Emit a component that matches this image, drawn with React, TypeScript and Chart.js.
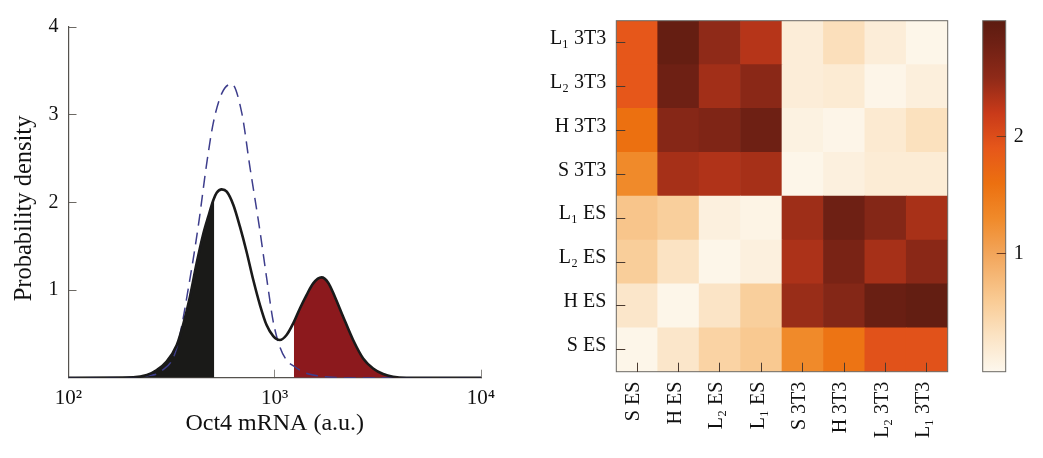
import React, { useEffect, useRef } from "react";
import { Chart, registerables } from "chart.js";

Chart.register(...registerables);

const SERIF = '"Liberation Serif", serif';
const AXIS = "#55524e";

// Left panel: densities
const mrna = [100, 206, 240, 268, 299, 335, 361, 388, 418, 451, 476, 504, 523, 553, 585, 630, 678, 730, 787, 848, 913, 983, 1059, 1141, 1229, 1324, 1426, 1536, 1686, 1816, 1956, 2146, 2399, 2683, 2999, 3353, 3748, 4349, 10000];
const density = [0, 0.004, 0.03, 0.087, 0.183, 0.373, 0.62, 0.924, 1.304, 1.646, 1.837, 2.027, 2.11, 2.148, 2.122, 1.97, 1.722, 1.437, 1.114, 0.829, 0.6, 0.475, 0.43, 0.487, 0.62, 0.79, 0.943, 1.076, 1.144, 1.084, 0.924, 0.696, 0.43, 0.22, 0.106, 0.042, 0.011, 0, 0];
const dashedMrna = [100, 206, 240, 280, 333, 392, 430, 465, 503, 553, 618, 692, 757, 842, 917, 983, 1059, 1141, 1250, 1400, 1650, 1900, 2350, 10000];
const dashedDensity = [0, 0, 0.02, 0.07, 0.32, 1.19, 1.8, 2.4, 2.9, 3.24, 3.35, 3.02, 2.41, 1.72, 1.11, 0.64, 0.35, 0.2, 0.125, 0.057, 0.019, 0.004, 0, 0];
const lowCutoff = 509;
const lowCutoffDensity = 2.05;
const highCutoff = 1238;
const highCutoffDensity = 0.635;
const logTicks = [100, 1000, 10000];
const logLabels = ["10²", "10³", "10⁴"];
const densityTicks = [1, 2, 3, 4];

// Right panel: distance matrix, rows listed top to bottom
const columnLabels = ["S ES", "H ES", "L₂ ES", "L₁ ES", "S 3T3", "H 3T3", "L₂ 3T3", "L₁ 3T3"];
const rowLabels = ["S ES", "H ES", "L₂ ES", "L₁ ES", "S 3T3", "H 3T3", "L₂ 3T3", "L₁ 3T3"];
const rowL1_3T3 = [1.9, 2.9, 2.5, 2.3, 0.15, 0.35, 0.15, 0.02];
const rowL2_3T3 = [1.9, 2.8, 2.4, 2.55, 0.15, 0.18, 0.03, 0.12];
const rowH_3T3 = [1.6, 2.58, 2.65, 2.8, 0.08, 0.03, 0.2, 0.33];
const rowS_3T3 = [1.3, 2.38, 2.33, 2.38, 0.02, 0.1, 0.17, 0.17];
const rowL1_ES = [0.66, 0.55, 0.1, 0.05, 2.42, 2.8, 2.6, 2.37];
const rowL2_ES = [0.56, 0.3, 0.02, 0.1, 2.35, 2.7, 2.38, 2.55];
const rowH_ES = [0.25, 0.02, 0.28, 0.55, 2.45, 2.6, 2.85, 2.92];
const rowS_ES = [0.02, 0.25, 0.5, 0.62, 1.3, 1.55, 1.95, 1.95];
const rowsBottomUp = [rowS_ES, rowH_ES, rowL2_ES, rowL1_ES, rowS_3T3, rowH_3T3, rowL2_3T3, rowL1_3T3];

// Colour scale
const scaleValues = [0, 0.3, 0.6, 1.0, 1.3, 1.6, 1.9, 2.2, 2.5, 2.8, 3.0];
const scaleColors = ["#fdf7ec", "#fbe3c3", "#f9cb94", "#f2a55a", "#f08a2a", "#ec7010", "#e6571a", "#c93a19", "#8f2a18", "#6e2014", "#5c1c10"];
const colorbarTicks = [1, 2];

function hexToRgb(h: string) {
  return [1, 3, 5].map((i) => parseInt(h.slice(i, i + 2), 16));
}
function colorFor(v: number) {
  let i = 0;
  while (i < scaleValues.length - 2 && v > scaleValues[i + 1]) i++;
  const t = Math.min(1, Math.max(0, (v - scaleValues[i]) / (scaleValues[i + 1] - scaleValues[i])));
  const a = hexToRgb(scaleColors[i]);
  const b = hexToRgb(scaleColors[i + 1]);
  return `rgb(${a.map((c, k) => Math.round(c + (b[k] - c) * t)).join(",")})`;
}

const frame = {
  id: "frame",
  afterDatasetsDraw(chart: any) {
    const { left, top, width, height } = chart.chartArea;
    const ctx = chart.ctx;
    ctx.save();
    ctx.strokeStyle = "#6b6863";
    ctx.lineWidth = 1;
    ctx.strokeRect(left, top, width, height);
    ctx.restore();
  },
};

const fit = (size: number) => (s: any) => {
  if (s.isHorizontal()) s.height = size;
  else s.width = size;
  s.paddingTop = 0;
  s.paddingBottom = 0;
  s.paddingLeft = 0;
  s.paddingRight = 0;
};
const pts = (xs: number[], ys: number[]) => xs.map((x, i) => ({ x, y: ys[i] }));

function lowRegion() {
  const out = pts(mrna, density).filter((p) => p.x < lowCutoff);
  out.push({ x: lowCutoff, y: lowCutoffDensity });
  return out;
}
function highRegion() {
  const out = pts(mrna, density).filter((p) => p.x > highCutoff);
  out.unshift({ x: highCutoff, y: highCutoffDensity });
  return out;
}

export default function App() {
  const leftRef = useRef<HTMLCanvasElement>(null);
  const heatRef = useRef<HTMLCanvasElement>(null);
  const barRef = useRef<HTMLCanvasElement>(null);

  useEffect(() => {
    const common = { responsive: false, animation: false as const, plugins: { legend: { display: false }, tooltip: { enabled: false } } };
    const area = (color: string, data: any[]) => ({
      data,
      borderWidth: 0,
      backgroundColor: color,
      fill: "origin",
      pointRadius: 0,
      cubicInterpolationMode: "monotone",
      order: 3,
    });
    const left = new Chart(leftRef.current!, {
      type: "line",
      data: {
        datasets: [
          { data: pts(mrna, density), borderColor: "#1a1a1a", borderWidth: 2.6, pointRadius: 0, fill: false, cubicInterpolationMode: "monotone", order: 1 },
          { data: pts(dashedMrna, dashedDensity), borderColor: "#3d3d8c", borderWidth: 1.5, borderDash: [12, 7], pointRadius: 0, fill: false, cubicInterpolationMode: "monotone", order: 2 },
          area("#1a1a18", lowRegion()),
          area("#8c191d", highRegion()),
        ] as any,
      },
      options: {
        ...common,
        layout: { autoPadding: false, padding: { left: 10, top: 27, right: 19, bottom: 20.3 } },
        scales: {
          x: {
            type: "logarithmic",
            min: 100,
            max: 10000,
            afterFit: fit(60),
            afterBuildTicks: (s: any) => {
              s.ticks = logTicks.map((value) => ({ value }));
            },
            grid: { drawOnChartArea: false, tickLength: -8, tickColor: "#8a8884" },
            border: { color: AXIS, width: 1.2 },
            ticks: {
              autoSkip: false,
              maxRotation: 0,
              minRotation: 0,
              padding: 16,
              color: "#111",
              font: { family: SERIF, size: 21 },
              callback: (v: any) => logLabels[logTicks.indexOf(Number(v))],
            },
            title: { display: true, text: "Oct4 mRNA (a.u.)", color: "#111", font: { family: SERIF, size: 24 }, padding: { top: 4, bottom: 0 } },
          },
          y: {
            min: 0,
            max: 4,
            afterFit: fit(58.5),
            afterBuildTicks: (s: any) => {
              s.ticks = densityTicks.map((value) => ({ value }));
            },
            grid: { drawOnChartArea: false, tickLength: -8, tickColor: "#6b6863" },
            border: { color: AXIS, width: 1.2 },
            ticks: { padding: 18, color: "#111", font: { family: SERIF, size: 20 }, labelOffset: 0 },
            // the trailing spaces move the centred title down along the axis
            title: { display: true, text: "Probability density  ", color: "#111", font: { family: SERIF, size: 24.5 }, padding: { top: 0, bottom: 0 } },
          },
        },
      } as any,
    });

    const heat = new Chart(heatRef.current!, {
      type: "bar",
      data: {
        labels: columnLabels,
        datasets: rowsBottomUp.map((row) => ({
          data: row.map(() => 1),
          backgroundColor: row.map(colorFor),
          borderWidth: 0,
          barPercentage: 1,
          categoryPercentage: 1,
        })),
      },
      options: {
        ...common,
        layout: { autoPadding: false, padding: { left: 0, top: 20.7, right: 4.3, bottom: 0 } },
        scales: {
          x: {
            stacked: true,
            afterFit: fit(86.3),
            grid: { offset: false, drawOnChartArea: false, tickLength: -9, tickColor: "#4a3a30", z: 2 },
            border: { display: false },
            ticks: { autoSkip: false, maxRotation: 90, minRotation: 90, padding: 19, labelOffset: -3, color: "#111", font: { family: SERIF, size: 20 } },
          },
          y: {
            stacked: true,
            min: 0,
            max: 8,
            afterFit: fit(76.3),
            afterBuildTicks: (s: any) => {
              s.ticks = rowLabels.map((_, i) => ({ value: i + 0.5 }));
            },
            grid: { drawOnChartArea: false, tickLength: -9, tickColor: "#4a3a30", z: 2 },
            border: { display: false },
            ticks: {
              autoSkip: false,
              padding: 19,
              labelOffset: -4,
              color: "#111",
              font: { family: SERIF, size: 20 },
              callback: (v: any) => rowLabels[Math.floor(Number(v))],
            },
          },
        },
      } as any,
      plugins: [frame],
    });

    const bar = new Chart(barRef.current!, {
      type: "bar",
      data: {
        labels: ["scale"],
        datasets: [
          {
            data: [[scaleValues[0] - 0.01, 2.99]],
            barPercentage: 1,
            categoryPercentage: 1,
            borderWidth: 0,
            backgroundColor: (ctx: any) => {
              const c = ctx.chart;
              const y = c.scales.y;
              if (!y || !c.chartArea) return scaleColors[0];
              const g = c.ctx.createLinearGradient(0, y.bottom, 0, y.top);
              scaleValues.forEach((v, i) => {
                const t = (v - y.min) / (y.max - y.min);
                g.addColorStop(Math.min(1, Math.max(0, t)), scaleColors[i]);
              });
              return g;
            },
          },
        ],
      },
      options: {
        ...common,
        layout: { autoPadding: false, padding: { left: 0.7, top: 20.7, right: 0, bottom: 86.3 } },
        scales: {
          x: { display: false },
          y: {
            position: "right",
            min: -0.01,
            max: 2.99,
            afterFit: fit(36.3),
            afterBuildTicks: (s: any) => {
              s.ticks = colorbarTicks.map((value) => ({ value }));
            },
            grid: { drawOnChartArea: false, tickLength: -9, tickColor: "#6b3a20", z: 2 },
            border: { display: false },
            ticks: { padding: 17, labelOffset: 0, color: "#111", font: { family: SERIF, size: 20 } },
          },
        },
      } as any,
      plugins: [frame],
    });

    return () => {
      left.destroy();
      heat.destroy();
      bar.destroy();
    };
  }, []);

  const place = (left: number, width: number): React.CSSProperties => ({ position: "absolute", left, top: 0, width, height: 458, display: "block" });
  return (
    <div style={{ position: "absolute", left: 0, top: 0, width: 1043, height: 458, background: "#fff", overflow: "hidden" }}>
      <canvas ref={leftRef} width={500} height={458} style={place(0, 500)} />
      <canvas ref={heatRef} width={412} height={458} style={place(540, 412)} />
      <canvas ref={barRef} width={60} height={458} style={place(982, 60)} />
    </div>
  );
}
